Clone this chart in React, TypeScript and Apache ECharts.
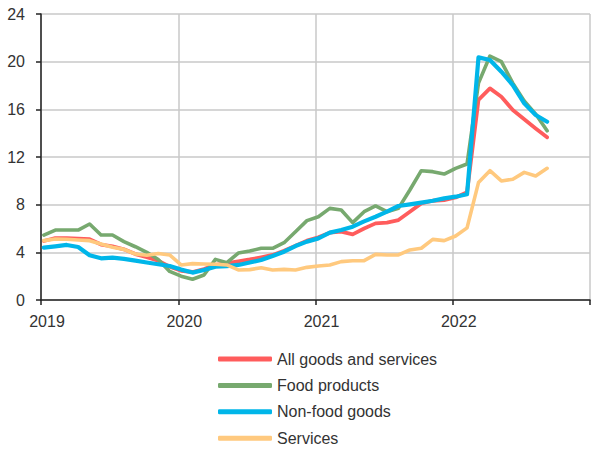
import React, { useEffect, useRef } from "react";
import * as echarts from "echarts";

// Monthly observations, Jan 2019 .. Sep 2022
const startYear = 2019;
const monthCount = 45;
const months: string[] = Array.from({ length: monthCount }, (_, i) => {
  const y = startYear + Math.floor(i / 12);
  const m = (i % 12) + 1;
  return `${y}-${m < 10 ? "0" + m : m}`;
});

const yearTicks = [2019, 2020, 2021, 2022];

const allGoods = [
  4.95, 5.2, 5.2, 5.15, 5.1, 4.65, 4.5, 4.25, 3.85, 3.6, 3.3, 2.8,
  2.45, 2.35, 2.6, 2.95, 3.1, 3.25, 3.4, 3.58, 3.78, 4.14, 4.56, 4.98,
  5.26, 5.65, 5.73, 5.51, 6.0, 6.43, 6.49, 6.71, 7.41, 8.11, 8.33, 8.39,
  8.6, 9.05, 16.8, 17.76, 17.06, 15.94, 15.16, 14.4, 13.65,
];

const foodProducts = [
  5.45, 5.87, 5.87, 5.87, 6.38, 5.45, 5.45, 4.9, 4.47, 4.0, 3.4, 2.4,
  2.0, 1.74, 2.1, 3.41, 3.13, 3.94, 4.11, 4.34, 4.34, 4.81, 5.73, 6.66,
  6.99, 7.69, 7.55, 6.49, 7.41, 7.89, 7.41, 7.69, 9.23, 10.85, 10.77, 10.57,
  11.05, 11.41, 18.2, 20.47, 20.0, 18.2, 16.7, 15.6, 14.2,
];

const nonFoodGoods = [
  4.4, 4.5, 4.62, 4.45, 3.75, 3.5, 3.55, 3.45, 3.3, 3.15, 3.0, 2.85,
  2.55, 2.3, 2.52, 2.8, 2.85, 2.94, 3.15, 3.36, 3.69, 4.05, 4.53, 4.9,
  5.17, 5.65, 5.87, 6.15, 6.6, 6.99, 7.41, 7.89, 8.03, 8.17, 8.33, 8.53,
  8.67, 8.87, 20.36, 20.14, 19.16, 18.04, 16.5, 15.52, 14.96,
];

const services = [
  4.98, 5.12, 5.1, 5.03, 4.98, 4.7, 4.42, 4.25, 3.86, 3.75, 3.9, 3.78,
  2.94, 3.05, 3.02, 3.0, 2.94, 2.52, 2.55, 2.71, 2.52, 2.57, 2.52, 2.74,
  2.85, 2.94, 3.22, 3.3, 3.3, 3.83, 3.78, 3.78, 4.2, 4.34, 5.09, 4.98,
  5.37, 6.05, 9.85, 10.85, 9.99, 10.13, 10.71, 10.41, 11.05,
];

const seriesNames = ["All goods and services", "Food products", "Non-food goods", "Services"];
const seriesColors = ["#ff5c5c", "#77a96f", "#00b6e9", "#ffc97e"];
const seriesWidths = [3.8, 3.6, 4.2, 3.6];

// month label -> months since Jan 2019 (plotted a quarter month into the month)
const toX = (label: string) => {
  const [y, m] = label.split("-").map(Number);
  return (y - startYear) * 12 + (m - 1) + 0.25;
};

const FONT = "'Liberation Sans', Arial, sans-serif";

export default function App() {
  const ref = useRef<HTMLDivElement>(null);
  useEffect(() => {
    if (!ref.current) return;
    const chart = echarts.init(ref.current, undefined, { renderer: "svg" });
    const values = [allGoods, foodProducts, nonFoodGoods, services];
    chart.setOption({
      animation: false,
      textStyle: { fontFamily: FONT },
      grid: { left: 41, right: 0, top: 14, bottom: 151, containLabel: false },
      legend: {
        orient: "vertical",
        left: 218,
        top: 350,
        padding: 0,
        height: 100,
        icon: "roundRect",
        itemWidth: 54,
        itemHeight: 5,
        itemGap: 8.4,
        textStyle: { fontSize: 16, color: "#333", fontFamily: FONT, lineHeight: 18 },
        data: seriesNames,
      },
      xAxis: {
        type: "value",
        min: 0,
        max: 48,
        interval: 12,
        axisLine: { show: true, lineStyle: { color: "#222", width: 1.5 } },
        axisTick: { show: true, length: 5, lineStyle: { color: "#222", width: 1.5 } },
        axisLabel: {
          fontSize: 16,
          color: "#333",
          margin: 13,
          padding: [0, 0, 0, 12],
          fontFamily: FONT,
          formatter: (v: number) => {
            const idx = Math.round(v / 12);
            return idx < yearTicks.length ? String(yearTicks[idx]) : "";
          },
        },
        splitLine: { show: true, lineStyle: { color: "#c8c8c8", width: 1.5 } },
      },
      yAxis: {
        type: "value",
        min: 0,
        max: 24,
        interval: 4,
        axisLine: { show: true, lineStyle: { color: "#222", width: 1.5 } },
        axisTick: { show: true, length: 5, lineStyle: { color: "#222", width: 1.5 } },
        axisLabel: { fontSize: 16, color: "#333", margin: 16, fontFamily: FONT },
        splitLine: { show: true, lineStyle: { color: "#c8c8c8", width: 1.5 } },
      },
      series: seriesNames.map((name, k) => ({
        name,
        type: "line",
        showSymbol: false,
        symbol: "none",
        color: seriesColors[k],
        lineStyle: { color: seriesColors[k], width: seriesWidths[k], cap: "round", join: "round" },
        data: months.map((m, i) => [toX(m), values[k][i]]),
      })),
    });
    return () => chart.dispose();
  }, []);
  return (
    <div
      ref={ref}
      style={{ position: "absolute", left: 0, top: 0, width: 593, height: 451 }}
    />
  );
}
